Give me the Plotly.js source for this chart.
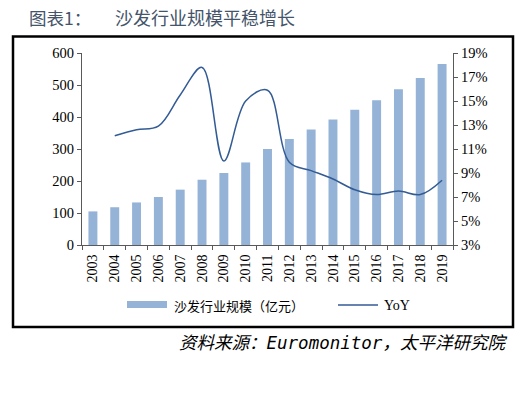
<!DOCTYPE html>
<html>
<head>
<meta charset="utf-8">
<script src="https://cdn.plot.ly/plotly-3.0.1.min.js"></script>
<style>html,body{margin:0;padding:0;background:#fff;}#chart{width:531px;height:397px;}</style>
</head>
<body>
<div id="chart"></div>
<script>
const years = ['2003','2004','2005','2006','2007','2008','2009','2010','2011','2012','2013','2014','2015','2016','2017','2018','2019'];
const scale = [105,118,133,150,173,204,225,258,300,331,361,392,423,452,487,522,566];
const yoy = [null,12.1,12.6,12.9,15.5,17.8,10.0,15.0,15.9,9.9,9.2,8.5,7.6,7.2,7.5,7.2,8.4];
const barName = '沙发行业规模（亿元）';
const lineName = 'YoY';
const titleLabel = '图表1：';
const titleText = '沙发行业规模平稳增长';
const sourceText = '资料来源：Euromonitor，太平洋研究院';

const W = 531, H = 397;
const M = {l: 82, r: 78, t: 53, b: 152};
const PW = W - M.l - M.r, PH = H - M.t - M.b;
const px = x => (x - M.l) / PW;
const py = y => (H - M.b - y) / PH;

const barColor = '#95B3D7';
const lineColor = '#335B94';
const serif = '"Liberation Serif", "Times New Roman", serif';
const cjk = '"Noto Sans CJK SC", sans-serif';

const traces = [
  {type: 'bar', x: years, y: scale, name: barName, marker: {color: barColor}, yaxis: 'y', showlegend: false, hoverinfo: 'skip'},
  {type: 'scatter', mode: 'lines', x: years, y: yoy, name: lineName, yaxis: 'y2',
   line: {color: lineColor, width: 1.5, shape: 'spline', smoothing: 1}, connectgaps: false, showlegend: false, hoverinfo: 'skip'}
];

const layout = {
  width: W, height: H,
  margin: M,
  paper_bgcolor: '#fff', plot_bgcolor: '#fff',
  bargap: 0.59,
  xaxis: {type: 'category', tickson: 'boundaries', ticks: 'outside', ticklen: 4, tickcolor: '#595959',
          showline: true, linecolor: '#595959', linewidth: 1, tickangle: -90, showgrid: false, ticklabelstandoff: 3,
          tickfont: {family: serif, size: 14, color: '#000'}, fixedrange: true},
  yaxis: {range: [0, 600], tick0: 0, dtick: 100, ticks: 'outside', ticklen: 4, tickcolor: '#595959',
          showline: true, linecolor: '#595959', linewidth: 1, showgrid: false, zeroline: false,
          tickfont: {family: serif, size: 14.5, color: '#000'}},
  yaxis2: {range: [3, 19], tick0: 3, dtick: 2, ticksuffix: '%', overlaying: 'y', side: 'right', ticks: 'outside', ticklen: 4,
           tickcolor: '#595959', showline: true, linecolor: '#595959', linewidth: 1, showgrid: false, zeroline: false,
           tickfont: {family: serif, size: 14.5, color: '#000'}},
  shapes: [
    {type: 'rect', xref: 'paper', yref: 'paper', x0: px(13), x1: px(513), y0: py(36.5), y1: py(327), line: {color: '#000', width: 2.5}},
    {type: 'rect', xref: 'paper', yref: 'paper', x0: px(127), x1: px(167), y0: py(301), y1: py(308), fillcolor: barColor, line: {width: 0}},
    {type: 'line', xref: 'paper', yref: 'paper', x0: px(338), x1: px(378), y0: py(305), y1: py(305), line: {color: lineColor, width: 1.5}}
  ],
  annotations: [
    {xref: 'paper', yref: 'paper', x: px(27), y: py(17), xanchor: 'left', yanchor: 'middle', showarrow: false, text: titleLabel,
     font: {family: cjk, size: 17.5, color: '#44546A'}},
    {xref: 'paper', yref: 'paper', x: px(113), y: py(17), xanchor: 'left', yanchor: 'middle', showarrow: false, text: titleText,
     font: {family: cjk, size: 18, color: '#44546A'}},
    {xref: 'paper', yref: 'paper', x: px(172), y: py(305), xanchor: 'left', yanchor: 'middle', showarrow: false, text: barName,
     font: {family: cjk, size: 13, color: '#000'}},
    {xref: 'paper', yref: 'paper', x: px(382), y: py(305), xanchor: 'left', yanchor: 'middle', showarrow: false, text: lineName,
     font: {family: serif, size: 14, color: '#000'}},
    {xref: 'paper', yref: 'paper', x: px(177), y: py(343), xanchor: 'left', yanchor: 'middle', showarrow: false, text: sourceText,
     font: {family: '"DejaVu Sans Mono", "Noto Sans CJK SC", monospace', size: 17.5, color: '#000', style: 'italic'}}
  ]
};

Plotly.newPlot('chart', traces, layout, {displayModeBar: false, staticPlot: true});
</script>
</body>
</html>
